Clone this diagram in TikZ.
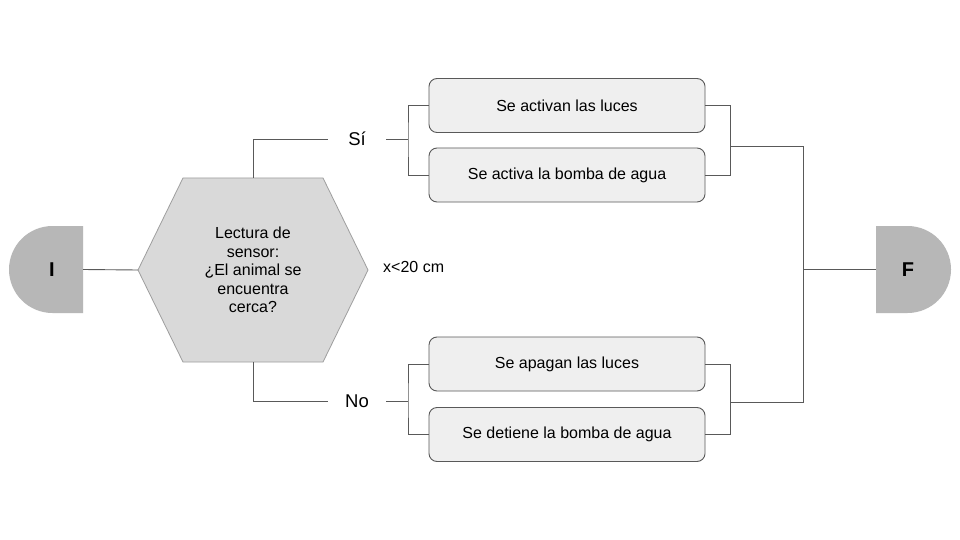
\documentclass[tikz,border=0pt]{standalone}
\usepackage{fontspec}
\setmainfont{Liberation Sans}
\definecolor{lineC}{HTML}{595959}
\definecolor{hexFill}{HTML}{D9D9D9}
\definecolor{hexLine}{HTML}{9E9E9E}
\definecolor{boxFill}{HTML}{EFEFEF}
\definecolor{termFill}{HTML}{B7B7B7}
\begin{document}
\begin{tikzpicture}[x=1pt,y=-1pt,
  conn/.style={draw=lineC, line width=0.9pt},
  actbox/.style={draw=lineC, fill=boxFill, rounded corners=8pt, line width=0.9pt,
    minimum width=276pt, minimum height=54pt, inner sep=0pt,
    font=\fontsize{16}{19}\selectfont},
  branchlbl/.style={minimum width=58pt, inner sep=0pt, font=\fontsize{18.5}{22}\selectfont},
  termlbl/.style={inner sep=0pt, font=\fontsize{20}{24}\selectfont\bfseries},
  hexlbl/.style={align=center, inner sep=0pt, font=\fontsize{16}{18.5}\selectfont}]
\useasboundingbox (0,0) rectangle (960,540);
\fill[white] (0,0) rectangle (960,540);

% start terminal
\fill[termFill] (83,226) -- (52.5,226) arc[start angle=90, end angle=270, radius=43.5pt] -- (83,313) -- cycle;
\node[termlbl] (I) at (52,269.5) {I};
\coordinate (Ie) at (83,269.5);

% end terminal
\fill[termFill] (876,226) -- (907.5,226) arc[start angle=90, end angle=-90, radius=43.5pt] -- (876,313) -- cycle;
\node[termlbl] (F) at (908,269.5) {F};
\coordinate (Fw) at (876,269.5);

% decision hexagon
\coordinate (hexW) at (138,270);
\coordinate (hexN) at (253,178);
\coordinate (hexS) at (253,362);
\filldraw[fill=hexFill, draw=hexLine, line width=0.8pt]
  (138,270) -- (183,178) -- (323,178) -- (368,270) -- (323,362) -- (183,362) -- cycle;
\node[hexlbl] (hex) at (253,270) {Lectura de\\sensor:\\¿El animal se\\encuentra\\cerca?};
\node[anchor=west, inner sep=0pt, font=\fontsize{16}{19}\selectfont] (cond) at (383,267) {x<20 cm};

% branch labels
\node[branchlbl] (si) at (357,139) {Sí};
\node[branchlbl] (no) at (357,401.5) {No};

% action boxes
\node[actbox] (b1) at (567,105.5) {Se activan las luces};
\node[actbox] (b2) at (567,175) {Se activa la bomba de agua};
\node[actbox] (b3) at (567,364) {Se apagan las luces};
\node[actbox] (b4) at (567,434.5) {Se detiene la bomba de agua};

% junction points
\coordinate (bsi) at (408,139);
\coordinate (bno) at (408,401.5);
\coordinate (msi) at (730,146);
\coordinate (mno) at (730,402);
\coordinate (jn) at (803,269.5);

% connectors
\draw[conn] (Ie) -- (hexW);
\draw[conn] (hexN) |- (si.west);
\draw[conn] (hexS) |- (no.west);
\draw[conn] (si.east) -- (bsi);
\draw[conn] (no.east) -- (bno);
\draw[conn] (b1.west) -| (bsi) |- (b2.west);
\draw[conn] (b3.west) -| (bno) |- (b4.west);
\draw[conn] (b1.east) -| (msi) |- (b2.east);
\draw[conn] (b3.east) -| (mno) |- (b4.east);
\draw[conn] (msi) -| (jn);
\draw[conn] (mno) -| (jn);
\draw[conn] (jn) -- (Fw);
\end{tikzpicture}
\end{document}
